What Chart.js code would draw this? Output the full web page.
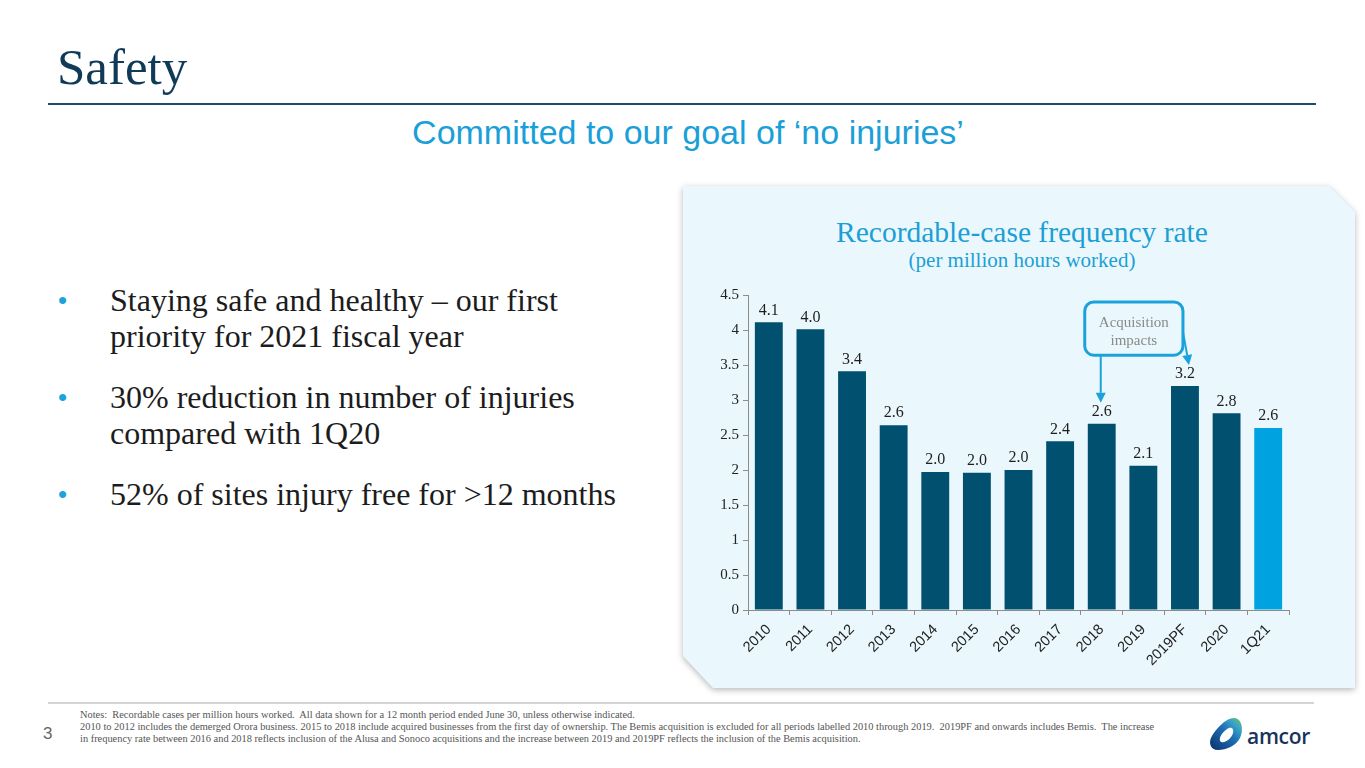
<!DOCTYPE html>
<html>
<head>
<meta charset="utf-8">
<script src="https://cdn.jsdelivr.net/npm/chart.js@4.4.0/dist/chart.umd.min.js"></script>
<style>
    html, body { margin: 0; padding: 0; background: #fff; }
    #slide { position: relative; width: 1365px; height: 768px; overflow: hidden; background: #fff; }
    .abs { position: absolute; }
    #title { left: 57px; top: 38px; font: 51px 'Liberation Serif', serif; color: #0f3a58; }
    #rule { left: 48px; top: 103px; width: 1268px; height: 2px; background: #234a67; }
    #tagline { left: 0; width: 1376px; top: 113px; text-align: center; font: 34px 'Liberation Sans', Arial, sans-serif; color: #1b9fd8; }
    #bullets { left: 58px; top: 282px; width: 640px; font: 32px/36px 'Liberation Serif', serif; color: #1c1c1c; }
    #bullets div { position: relative; padding-left: 52px; margin-bottom: 25px; }
    #bullets div::before { content: '\2022'; position: absolute; left: 0; top: 0; color: #1ba3dc; font: 26px/36px 'Liberation Sans', sans-serif; }
    #panelWrap { left: 683px; top: 186px; width: 672px; height: 502px; filter: drop-shadow(0 2px 3px rgba(0,0,0,0.28)); }
    #panel { position: absolute; inset: 0; background: #eaf8fd;
        clip-path: polygon(0 0, calc(100% - 26px) 0, 100% 26px, 100% 100%, 30px 100%, 0 calc(100% - 32px)); }
    #chartTitle { left: 0; width: 678px; top: 30px; text-align: center; font: 29.5px 'Liberation Serif', serif; color: #1c9fd5; }
    #chartSub { left: 0; width: 678px; top: 62px; text-align: center; font: 21px 'Liberation Serif', serif; color: #1c9fd5; }
    #chartBox { position: absolute; left: 0; top: 0; width: 672px; height: 502px; }
    #footRule { left: 48px; top: 702px; width: 1266px; height: 2px; background: #d4d4d4; }
    #notes { left: 80px; top: 709px; font: 10.4px/12px 'Liberation Serif', serif; color: #555; white-space: nowrap; }
    #pageNo { left: 43px; top: 724px; font: 17px 'Liberation Sans', sans-serif; color: #666; }
    #logo { left: 1206px; top: 716px; }
    #logoText { left: 1247px; top: 722px; font: 600 21px 'Open Sans', sans-serif; color: #17345a; letter-spacing: -0.3px; }
</style>
</head>
<body>
<div id="slide">
    <div id="title" class="abs">Safety</div>
    <div id="rule" class="abs"></div>
    <div id="tagline" class="abs">Committed to our goal of ‘no injuries’</div>

    <div id="bullets" class="abs">
        <div>Staying safe and healthy – our first<br>priority for 2021 fiscal year</div>
        <div>30% reduction in number of injuries<br>compared with 1Q20</div>
        <div>52% of sites injury free for &gt;12 months</div>
    </div>

    <div id="panelWrap" class="abs">
        <div id="panel">
            <div id="chartTitle" class="abs">Recordable-case frequency rate</div>
            <div id="chartSub" class="abs">(per million hours worked)</div>
            <div id="chartBox"><canvas id="chart"></canvas></div>
        </div>
    </div>

    <div id="footRule" class="abs"></div>
    <div id="pageNo" class="abs">3</div>
    <div id="notes" class="abs">
        Notes:&nbsp; Recordable cases per million hours worked.&nbsp; All data shown for a 12 month period ended June 30, unless otherwise indicated.<br>
        2010 to 2012 includes the demerged Orora business. 2015 to 2018 include acquired businesses from the first day of ownership. The Bemis acquisition is excluded for all periods labelled 2010 through 2019.&nbsp; 2019PF and onwards includes Bemis.&nbsp; The increase<br>
        in frequency rate between 2016 and 2018 reflects inclusion of the Alusa and Sonoco acquisitions and the increase between 2019 and 2019PF reflects the inclusion of the Bemis acquisition.
    </div>
    <svg id="logo" class="abs" width="40" height="36" viewBox="0 0 40 36">
        <defs>
            <linearGradient id="lg" x1="0" y1="1" x2="1" y2="0">
                <stop offset="0" stop-color="#0b2f6b"/>
                <stop offset="0.55" stop-color="#1f6fb5"/>
                <stop offset="0.8" stop-color="#3aa6c8"/>
                <stop offset="1" stop-color="#7cc242"/>
            </linearGradient>
        </defs>
        <path d="M6 20 C2 26 4 34 12 34 C20 34 30 30 34 22 C38 14 36 2 28 2 C20 2 10 13 6 20 Z" fill="url(#lg)"/>
        <path d="M14 22 C13 25 15 27 18 26 C22 25 26 21 27 17 C28 13 26 11 23 12 C19 14 15 18 14 22 Z" fill="#fff"/>
    </svg>
    <div id="logoText" class="abs">amcor</div>
</div>

<script>
const categories = ['2010', '2011', '2012', '2013', '2014', '2015', '2016', '2017', '2018', '2019', '2019PF', '2020', '1Q21'];
const rates = [4.11, 4.01, 3.41, 2.64, 1.97, 1.96, 2.0, 2.41, 2.66, 2.06, 3.2, 2.81, 2.6];
const rateLabels = ['4.1', '4.0', '3.4', '2.6', '2.0', '2.0', '2.0', '2.4', '2.6', '2.1', '3.2', '2.8', '2.6'];
const yMax = 4.5;
const yStep = 0.5;

const darkBar = '#02506f';
const lightBar = '#00a3e0';
const barColors = categories.map((c, i) => (i === categories.length - 1 ? lightBar : darkBar));

// value labels above the bars
const valueLabels = {
    id: 'valueLabels',
    afterDatasetsDraw(chart) {
        const { ctx } = chart;
        const meta = chart.getDatasetMeta(0);
        ctx.save();
        ctx.font = "16px 'Liberation Serif', serif";
        ctx.fillStyle = '#1e1e1e';
        ctx.textAlign = 'center';
        ctx.textBaseline = 'middle';
        meta.data.forEach((bar, i) => {
            ctx.fillText(rateLabels[i], bar.x, bar.y - 12);
        });
        ctx.restore();
    },
};

// "Acquisition impacts" callout, placed on the chart's scales
const callout = {
    id: 'callout',
    afterDatasetsDraw(chart) {
        const { ctx, scales: { x, y } } = chart;
        const left = x.getPixelForValue(8) - 17;
        const right = x.getPixelForValue(10) - 2;
        const top = y.getPixelForValue(4.4);
        const bottom = y.getPixelForValue(3.64);
        const blue = '#1ba2dc';

        ctx.save();
        ctx.strokeStyle = blue;
        ctx.fillStyle = blue;
        ctx.lineWidth = 2;

        const arrow = (x1, y1, x2, y2) => {
            const a = Math.atan2(y2 - y1, x2 - x1);
            const hl = 10, hw = 5;
            const bx = x2 - hl * Math.cos(a), by = y2 - hl * Math.sin(a);
            ctx.beginPath();
            ctx.moveTo(x1, y1);
            ctx.lineTo(bx, by);
            ctx.stroke();
            ctx.beginPath();
            ctx.moveTo(x2, y2);
            ctx.lineTo(bx + hw * Math.sin(a), by - hw * Math.cos(a));
            ctx.lineTo(bx - hw * Math.sin(a), by + hw * Math.cos(a));
            ctx.closePath();
            ctx.fill();
        };
        arrow(x.getPixelForValue(8) - 1, bottom, x.getPixelForValue(8) - 1, y.getPixelForValue(2.96));
        arrow(right - 1, y.getPixelForValue(4.05), x.getPixelForValue(10) + 4, y.getPixelForValue(3.5));

        ctx.lineWidth = 3;
        ctx.beginPath();
        ctx.roundRect(left, top, right - left, bottom - top, 9);
        ctx.fillStyle = '#eaf8fd';
        ctx.fill();
        ctx.stroke();

        ctx.font = "15px 'Liberation Serif', serif";
        ctx.fillStyle = '#8a8a8a';
        ctx.textAlign = 'center';
        ctx.textBaseline = 'middle';
        const cx = (left + right) / 2;
        ctx.fillText('Acquisition', cx, top + 21);
        ctx.fillText('impacts', cx, top + 39);
        ctx.restore();
    },
};

new Chart(document.getElementById('chart'), {
    type: 'bar',
    data: {
        labels: categories,
        datasets: [
            {
                label: 'Recordable-case frequency rate',
                data: rates,
                backgroundColor: barColors,
                borderWidth: 0,
                barPercentage: 0.67,
                categoryPercentage: 1,
            },
        ],
    },
    options: {
        responsive: true,
        maintainAspectRatio: false,
        animation: false,
        layout: { padding: { left: 25, right: 66, top: 109, bottom: 18 } },
        plugins: {
            legend: { display: false },
            tooltip: { enabled: false },
        },
        scales: {
            x: {
                grid: { drawOnChartArea: false, drawTicks: true, tickLength: 5, color: '#8c8c8c' },
                border: { color: '#8c8c8c' },
                ticks: {
                    minRotation: 45,
                    maxRotation: 45,
                    color: '#222',
                    padding: 6,
                    font: { family: "'Liberation Sans', Arial, sans-serif", size: 14.5 },
                },
                afterFit: s => { s.height = 60; },
            },
            y: {
                min: 0,
                max: yMax,
                grid: { drawOnChartArea: false, drawTicks: true, tickLength: 5, color: '#8c8c8c' },
                border: { color: '#8c8c8c' },
                ticks: {
                    stepSize: yStep,
                    color: '#222',
                    padding: 4,
                    font: { family: "'Liberation Serif', serif", size: 15 },
                    callback: v => String(v),
                },
                afterFit: s => { s.width = 40; },
            },
        },
    },
    plugins: [valueLabels, callout],
});
</script>
</body>
</html>
